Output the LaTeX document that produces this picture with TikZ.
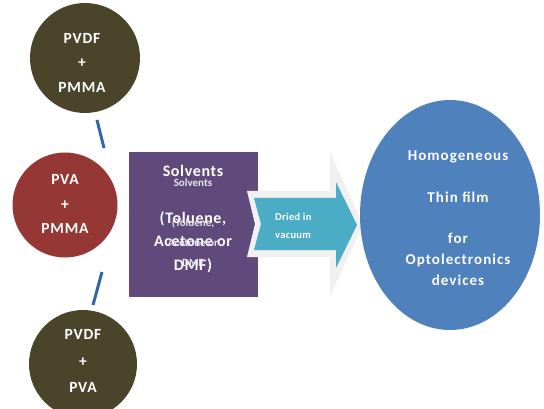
\documentclass[tikz,border=0pt]{standalone}
\usepackage{fontspec}
\setmainfont{Carlito}
\usetikzlibrary{shapes.geometric}
\definecolor{cOlive}{RGB}{74,69,42}
\definecolor{cRed}{RGB}{149,55,53}
\definecolor{cPurple}{RGB}{96,74,123}
\definecolor{cTeal}{RGB}{75,172,198}
\definecolor{cBlue}{RGB}{79,129,189}
\definecolor{cGray}{RGB}{240,240,240}
\definecolor{cLine}{RGB}{52,101,164}
\begin{document}
\begin{tikzpicture}[x=1pt,y=-1pt,
  blob/.style={circle,inner sep=0pt,minimum size=#1},
  wtext/.style={text=white,align=center,inner sep=0pt},
  linkline/.style={draw=cLine,line width=3pt}]
\useasboundingbox (0,0) rectangle (544,409);
% circles
\node[blob=110pt,fill=cOlive] (c1) at (85,58) {};
\node[blob=105pt,fill=cRed] (c2) at (65,205) {};
\node[blob=108pt,fill=cOlive] (c3) at (83,364) {};
\node[wtext,font=\bfseries\addfontfeatures{LetterSpace=5}\fontsize{15.5}{24.5}\selectfont] (t1) at (82,62.5) {PVDF\\+\\PMMA};
\node[wtext,font=\bfseries\addfontfeatures{LetterSpace=5}\fontsize{15.5}{24.5}\selectfont] (t2) at (65,204) {PVA\\+\\PMMA};
\node[wtext,font=\bfseries\addfontfeatures{LetterSpace=5}\fontsize{15.5}{26.5}\selectfont] (t3) at (83,361) {PVDF\\+\\PVA};
% link segments
\coordinate (l1a) at (97,120);
\coordinate (l1b) at (104,148);
\coordinate (l2a) at (102,272);
\coordinate (l2b) at (93,305);
\draw[linkline] (l1a) -- (l1b);
\draw[linkline] (l2a) -- (l2b);
% solvent box
\node[rectangle,fill=cPurple,minimum width=129pt,minimum height=145pt,inner sep=0pt] (box) at (193.5,224.5) {};
\node[wtext,font=\bfseries\addfontfeatures{LetterSpace=4}\fontsize{16}{23.5}\selectfont] (sbig) at (193,219) {Solvents\\[0pt]\mbox{}\\(Toluene,\\Acetone or\\DMF)};
\node[wtext,text=white!85!cPurple,font=\bfseries\fontsize{11}{20}\selectfont] (ssmall) at (193,223) {Solvents\\\mbox{}\\(Toluene,\\Acetone or\\DMF};
% arrow
\fill[cGray] (247,191) -- (330,191) -- (330,152) -- (363,225) -- (330,296) -- (330,257) -- (247,257) -- (255,224) -- cycle;
\fill[cTeal] (254,198) -- (336,198) -- (336,182) -- (357,225) -- (336,268) -- (336,250) -- (254,250) -- (261,224) -- cycle;
\node[wtext,align=left,anchor=west,font=\bfseries\addfontfeatures{LetterSpace=3}\fontsize{10.5}{18}\selectfont] (dried) at (275,226) {Dried in\\vacuum};
% ellipse
\node[ellipse,fill=cBlue,minimum width=180pt,minimum height=230pt,inner sep=0pt] (film) at (450,215) {};
\node[wtext,font=\bfseries\addfontfeatures{LetterSpace=7}\fontsize{15}{20.8}\selectfont] (ftext) at (458,218) {Homogeneous\\\mbox{}\\Thin film\\\mbox{}\\for\\Optolectronics\\devices};
\end{tikzpicture}
\end{document}
